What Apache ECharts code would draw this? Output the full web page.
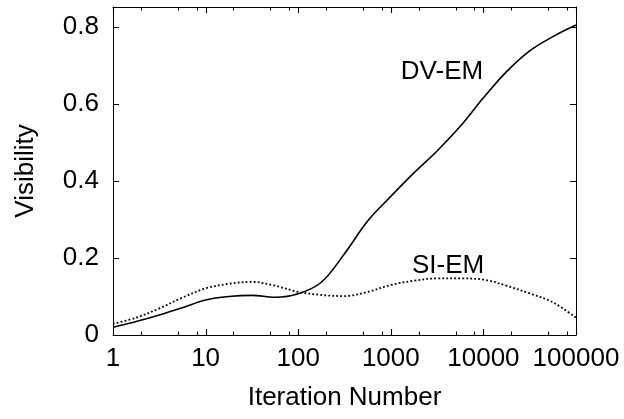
<!DOCTYPE html>
<html>
<head>
<meta charset="utf-8">
<script src="https://cdn.jsdelivr.net/npm/echarts@6/dist/echarts.min.js"></script>
<style>html,body{margin:0;padding:0;background:#fff}#c{width:624px;height:419px}</style>
</head>
<body>
<div id="c"></div>
<script>
const iterations = [1, 1.778, 3.162, 5.623, 10, 17.78, 31.62, 56.23, 100, 177.8, 316.2, 562.3, 1000, 1778, 3162, 5623, 10000, 17783, 31623, 56234, 100000];
const dvEM = [0.020, 0.035, 0.052, 0.071, 0.091, 0.100, 0.103, 0.098, 0.107, 0.137, 0.211, 0.296, 0.360, 0.421, 0.478, 0.542, 0.616, 0.684, 0.738, 0.775, 0.805];
const siEM = [0.029, 0.045, 0.069, 0.097, 0.121, 0.133, 0.138, 0.128, 0.112, 0.104, 0.101, 0.112, 0.130, 0.141, 0.147, 0.147, 0.144, 0.128, 0.108, 0.085, 0.045];
const xMajorTicks = [1, 10, 100, 1000, 10000, 100000];
const xTickLabels = ['1', '10', '100', '1000', '10000', '100000'];
const minorTickMultipliers = [2, 5, 8];
const seriesNames = ['DV-EM', 'SI-EM'];
const labelPositions = [[3570, 0.683], [4150, 0.179]];

const FONT = "'Liberation Sans', Arial, sans-serif";
const FS = 26;
const Y_MAX = 0.852;

// tick list: [value, length]
const xTickData = [];
xMajorTicks.forEach(v => xTickData.push([v, 0, 6]));
xMajorTicks.slice(0, -1).forEach(v => minorTickMultipliers.forEach(m => xTickData.push([v * m, 0, 3.5])));

const pairs = arr => iterations.map((x, i) => [x, arr[i]]);

const chart = echarts.init(document.getElementById('c'), null, {renderer: 'canvas'});
const lineAxis = {lineStyle: {color: '#000', width: 1}};
const makeX = (pos, showLabel) => ({
  type: 'log', logBase: 10, min: 1, max: 100000, position: pos,
  axisLine: Object.assign({show: true, onZero: false}, lineAxis),
  axisTick: {show: false},
  axisLabel: {show: showLabel, fontSize: FS, fontFamily: FONT, color: '#000', margin: 11,
    formatter: v => xTickLabels[Math.round(Math.log10(v))]},
  splitLine: {show: false}
});
const xBottom = makeX('bottom', true);
xBottom.name = 'Iteration Number';
xBottom.nameLocation = 'middle';
xBottom.nameGap = 50;
xBottom.nameTextStyle = {fontSize: FS, fontFamily: FONT, color: '#000'};

chart.setOption({
  animation: false,
  backgroundColor: '#fff',
  grid: {left: 113, right: 48, top: 7, bottom: 84, containLabel: false},
  xAxis: [xBottom, makeX('top', false)],
  yAxis: [{
    type: 'value', min: 0, max: Y_MAX, interval: 0.2, position: 'left',
    name: 'Visibility', nameLocation: 'middle', nameGap: 74,
    nameTextStyle: {fontSize: FS, fontFamily: FONT, color: '#000'},
    axisLine: Object.assign({show: true, onZero: false}, lineAxis),
    axisTick: {show: true, inside: true, length: 6, lineStyle: {color: '#000'}},
    axisLabel: {fontSize: FS, fontFamily: FONT, color: '#000', margin: 14, showMaxLabel: false,
      formatter: v => (v > 0.81 ? '' : String(+v.toFixed(1)))},
    splitLine: {show: false}
  }, {
    type: 'value', min: 0, max: Y_MAX, interval: 0.2, position: 'right',
    axisLine: Object.assign({show: true, onZero: false}, lineAxis),
    axisTick: {show: true, inside: true, length: 6, lineStyle: {color: '#000'}},
    axisLabel: {show: false},
    splitLine: {show: false}
  }],
  series: [{
    name: 'xticks', type: 'custom', xAxisIndex: 0, yAxisIndex: 0, clip: false, silent: true,
    data: xTickData,
    renderItem: (params, api) => {
      const v = api.value(0), len = api.value(2);
      const b = api.coord([v, 0]);
      const t = api.coord([v, Y_MAX]);
      const x = Math.round(b[0]) + 0.5;
      const st = {stroke: '#000', lineWidth: 1.1};
      return {type: 'group', children: [
        {type: 'line', shape: {x1: x, y1: b[1], x2: x, y2: b[1] - len}, style: st},
        {type: 'line', shape: {x1: x, y1: t[1], x2: x, y2: t[1] + len}, style: st}
      ]};
    }
  }, {
    name: seriesNames[0], type: 'line', xAxisIndex: 0, yAxisIndex: 0,
    data: pairs(dvEM), smooth: 0.35, showSymbol: false,
    lineStyle: {color: '#000', width: 1.6},
    markPoint: {
      symbol: 'circle', symbolSize: 1, itemStyle: {color: 'rgba(0,0,0,0)'},
      label: {show: true, position: 'inside', formatter: seriesNames[0], fontSize: FS, fontFamily: FONT, color: '#000'},
      data: [{coord: labelPositions[0]}]
    }
  }, {
    name: seriesNames[1], type: 'line', xAxisIndex: 0, yAxisIndex: 0,
    data: pairs(siEM), smooth: 0.35, showSymbol: false,
    lineStyle: {color: '#000', width: 1.8, type: [1.8, 2.2]},
    markPoint: {
      symbol: 'circle', symbolSize: 1, itemStyle: {color: 'rgba(0,0,0,0)'},
      label: {show: true, position: 'inside', formatter: seriesNames[1], fontSize: FS, fontFamily: FONT, color: '#000'},
      data: [{coord: labelPositions[1]}]
    }
  }]
});
</script>
</body>
</html>
